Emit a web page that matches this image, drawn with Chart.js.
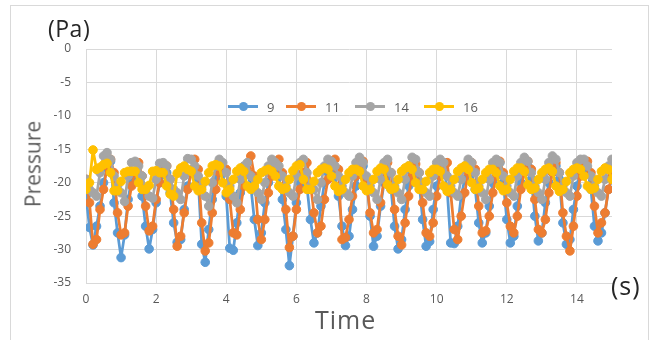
<!DOCTYPE html>
<html>
<head>
<meta charset="utf-8">
<script src="https://cdn.jsdelivr.net/npm/chart.js@4"></script>
<style>
  html, body { margin: 0; padding: 0; background: #fff; }
  #wrap { position: relative; width: 656px; height: 340px; overflow: hidden; font-family: "Open Sans", "Liberation Sans", sans-serif; }
  #frame { position: absolute; left: 10px; top: 5px; width: 639px; height: 345px; border: 1px solid #D9D9D9; box-sizing: border-box; }
  canvas { position: absolute; left: 0; top: 0; }
  .t { position: absolute; white-space: nowrap; line-height: 1; }
  .leg { position: absolute; top: 99px; height: 14px; font-size: 13px; color: #595959; }
  .leg .ln { position: absolute; left: 0; top: 6px; width: 30px; height: 2.5px; }
  .leg .dot { position: absolute; left: 10.5px; top: 2.5px; width: 9px; height: 9px; border-radius: 50%; }
  .leg .tx { position: absolute; left: 39px; top: -1px; }
</style>
</head>
<body>
<div id="wrap">
  <div id="frame"></div>
  <canvas id="c" width="656" height="340"></canvas>
  <div class="t" style="left:48px;top:17px;font-size:23px;letter-spacing:0.5px;color:#262626;">(Pa)</div>
  <div class="t" style="left:611px;top:273px;font-size:25px;letter-spacing:1px;color:#262626;">(s)</div>
  <div class="t" style="left:315px;top:307px;font-size:25px;letter-spacing:1px;color:#595959;">Time</div>
  <div class="t" style="left:33px;top:164px;font-size:21px;color:#595959;transform:translate(-50%,-50%) rotate(-90deg);">Pressure</div>
  <div id="legend"></div>
</div>
<script>
const seriesNames = ["9", "11", "14", "16"];
const seriesColors = ["#5B9BD5", "#ED7D31", "#A5A5A5", "#FFC000"];

const times = [
  0,0.1,0.2,0.3,0.4,0.5,0.6,0.7,0.8,0.9,
  1,1.1,1.2,1.3,1.4,1.5,1.6,1.7,1.8,1.9,
  2,2.1,2.2,2.3,2.4,2.5,2.6,2.7,2.8,2.9,
  3,3.1,3.2,3.3,3.4,3.5,3.6,3.7,3.8,3.9,
  4,4.1,4.2,4.3,4.4,4.5,4.6,4.7,4.8,4.9,
  5,5.1,5.2,5.3,5.4,5.5,5.6,5.7,5.8,5.9,
  6,6.1,6.2,6.3,6.4,6.5,6.6,6.7,6.8,6.9,
  7,7.1,7.2,7.3,7.4,7.5,7.6,7.7,7.8,7.9,
  8,8.1,8.2,8.3,8.4,8.5,8.6,8.7,8.8,8.9,
  9,9.1,9.2,9.3,9.4,9.5,9.6,9.7,9.8,9.9,
  10,10.1,10.2,10.3,10.4,10.5,10.6,10.7,10.8,10.9,
  11,11.1,11.2,11.3,11.4,11.5,11.6,11.7,11.8,11.9,
  12,12.1,12.2,12.3,12.4,12.5,12.6,12.7,12.8,12.9,
  13,13.1,13.2,13.3,13.4,13.5,13.6,13.7,13.8,13.9,
  14,14.1,14.2,14.3,14.4,14.5,14.6,14.7,14.8,14.9,
  15
];

const s9 = [
  -22, -26.7, -29.3, -26.5, -23.5, -20, -17.8, -16.8, -23, -27.5,
  -31.2, -27.8, -22.5, -19.5, -18.5, -19, -22, -26.5, -29.9, -27,
  -23, -20, -18.8, -18.5, -21.5, -26, -28.9, -28.5, -24, -20.5,
  -18.5, -18, -19.5, -29.2, -31.9, -27, -22.5, -19.5, -18, -18.5,
  -22, -29.8, -30.1, -26, -21.5, -19, -18.5, -20.5, -25.5, -29.4,
  -27.5, -23, -20, -18.5, -18, -19, -22.5, -27, -32.4, -28,
  -23, -20, -18.5, -20.5, -25.5, -29.0, -27.5, -23.5, -20, -18.5,
  -18, -19, -22, -26.5, -29.4, -28, -24, -20.5, -18.5, -17.5,
  -19.5, -25, -29.5, -28, -23.5, -20, -18.5, -21, -26.5, -29.9,
  -28.5, -24, -20.5, -18.5, -18, -20, -25.5, -29.5, -28.8, -24,
  -20.5, -18.5, -17.5, -21, -29.0, -29.1, -26.5, -22, -19.5, -18,
  -18.5, -21, -26, -29.0, -27.5, -23.5, -20, -18, -17, -20,
  -25.5, -29.0, -28, -23.5, -20, -18, -17.5, -19.5, -25, -28.7,
  -27.5, -23, -20, -18.5, -17.5, -19.5, -26, -29.2, -28.5, -24,
  -20.5, -18.5, -17.5, -18, -21, -26.5, -28.7, -27.5, -24.5, -21,
  -19.5
];

const s11 = [
  -19.5, -23, -29.2, -28.5, -24, -21, -17.5, -16.5, -18.5, -24.5,
  -27.8, -27.5, -23.5, -20.5, -18.5, -17, -19, -23.5, -27.2, -26.5,
  -22.5, -20, -18, -17.5, -19.5, -24, -29.5, -28, -24.5, -21,
  -18.5, -16.5, -18, -26, -30.2, -29, -24.5, -21, -18.5, -17.8,
  -18, -22.5, -27.5, -27.8, -24, -20.5, -18, -16, -19, -25.5,
  -28.5, -25.5, -21.5, -19, -17.5, -16.5, -18.5, -24, -29.7, -28,
  -24, -21, -18.5, -17, -20, -24.5, -27.5, -26.5, -22.5, -19.5,
  -17.5, -16.5, -18, -28.5, -28.2, -25.5, -22, -19, -17.5, -16.8,
  -19.5, -24.5, -27.5, -27, -23, -19.5, -17, -18.5, -24, -28,
  -29.3, -26, -22, -19, -17.2, -18.5, -23, -27.5, -28, -26,
  -22, -19, -17.5, -17, -21.5, -27, -28.5, -25, -21.5, -18.5,
  -17, -18, -23.5, -27.5, -27.2, -25, -21.5, -19, -16.8, -18.5,
  -23, -26.5, -27.5, -25, -21, -18.5, -16.8, -18, -22.5, -27,
  -27.5, -25.5, -21.5, -18.5, -17, -18.5, -24.5, -28, -30.2, -26.5,
  -22, -19, -17.5, -16.8, -18.5, -23.5, -27.5, -26, -24.5, -21,
  -19
];

const s14 = [
  -19.5, -21, -21.5, -22, -18.5, -16, -15.5, -16.5, -19, -20.5,
  -21.5, -22.8, -19, -17, -16.8, -17.5, -19, -21, -22, -22.3,
  -19.5, -17.1, -17, -17.5, -19.5, -21, -21.5, -22.5, -19, -16.4,
  -16.5, -17.5, -19, -20.5, -22, -23.5, -20, -17.5, -16.5, -17,
  -18.5, -20.5, -22, -23, -19.5, -17.5, -17, -19, -20.5, -21.5,
  -22.5, -20, -17.5, -16.5, -17, -17.5, -19, -20.5, -21.5, -22,
  -19, -17, -16.5, -18.5, -20.5, -21, -22.5, -20, -17.5, -16.5,
  -16.8, -17.5, -19, -20.5, -21.5, -22, -19, -17, -16.2, -17,
  -19, -20.5, -21.5, -22.5, -19.5, -17, -16.5, -18.5, -20.5, -21.5,
  -22.5, -19.5, -17.5, -16.2, -16.5, -18.5, -20, -21.5, -22, -19,
  -17, -16.5, -17, -19, -20.5, -21.5, -22, -19.5, -17.5, -16.5,
  -17, -18.5, -20.5, -21.5, -22.5, -19.5, -17, -16.5, -17, -19,
  -20.5, -21.5, -22, -19, -17, -16.2, -16.8, -18.5, -20.5, -21.5,
  -22.5, -19.5, -17, -16, -16.5, -18.5, -20.5, -21.5, -22, -19,
  -17, -16.5, -16.5, -17.5, -19, -20.5, -21.5, -22, -19.5, -17.5,
  -16.5
];

const s16 = [
  -21, -20, -15.1, -18, -17.7, -17.3, -17.1, -18.5, -21.2, -21.2,
  -19.8, -18.5, -18.3, -18.3, -18.3, -20, -21, -21, -20.4, -18.3,
  -18.2, -18.5, -18.5, -20.5, -21.7, -22, -18.6, -17.8, -17.5, -18,
  -18.3, -20.5, -21.2, -21, -19.8, -18.5, -17.5, -17.3, -17.5, -20,
  -21.5, -21, -19.5, -18.3, -17.8, -18.3, -20.5, -21, -20.5, -19.5,
  -18.5, -18.2, -18, -18.3, -19, -20.5, -21, -20.8, -19.5, -18.2,
  -17.5, -17.3, -19.5, -21, -21, -19.8, -18.5, -18, -17.8, -18,
  -19, -20.5, -21.3, -21, -19.5, -18.5, -18, -18, -18.3, -20.5,
  -21.2, -21, -19.5, -18.3, -17.8, -18, -20.3, -21, -20.8, -19.5,
  -18.3, -17.8, -17.5, -18, -20, -21, -21, -19.8, -18.5, -18,
  -18, -18.3, -20.5, -21.3, -21, -19.5, -18.3, -17.8, -17.5, -18,
  -20, -21, -20.8, -19.5, -18.5, -18, -18, -18.5, -20.5, -21.2,
  -21, -19.5, -18.3, -17.8, -17.8, -18.3, -20.3, -21, -20.8, -19.5,
  -18.5, -18, -17.8, -18.3, -20.5, -21.3, -21, -19.8, -18.5, -18,
  -17.8, -18, -19, -20.5, -21, -20.8, -19.5, -18.3, -17.8, -18,
  -19.5
];

const xTickStep = 2;
const yTickStep = 5;

const allSeries = [s9, s11, s14, s16];

const datasets = allSeries.map((vals, k) => ({
  label: seriesNames[k],
  data: times.map((t, i) => ({ x: t, y: vals[i] })),
  borderColor: seriesColors[k],
  backgroundColor: seriesColors[k],
  pointBackgroundColor: seriesColors[k],
  pointBorderColor: seriesColors[k],
  borderWidth: 2.75,
  borderJoinStyle: 'round',
  borderCapStyle: 'round',
  pointRadius: 4.3,
  pointHoverRadius: 4.3,
  pointBorderWidth: 1,
  tension: 0,
  order: 4 - k
}));

// HTML legend
const legendX = [228, 286, 355, 424];
const legendEl = document.getElementById('legend');
seriesNames.forEach((n, k) => {
  const d = document.createElement('div');
  d.className = 'leg';
  d.style.left = legendX[k] + 'px';
  d.innerHTML = '<span class="ln" style="background:' + seriesColors[k] + '"></span>' +
    '<span class="dot" style="background:' + seriesColors[k] + '"></span>' +
    '<span class="tx">' + n + '</span>';
  legendEl.appendChild(d);
});

const gridColor = '#D9D9D9';
new Chart(document.getElementById('c'), {
  type: 'line',
  data: { datasets },
  options: {
    responsive: false,
    animation: false,
    events: [],
    layout: { padding: { left: 0, top: 49, right: 44, bottom: 0 } },
    plugins: { legend: { display: false }, tooltip: { enabled: false } },
    scales: {
      x: {
        type: 'linear',
        min: 0, max: 15,
        afterFit: s => { s.height = 57; },
        grid: { color: gridColor, lineWidth: 1, drawTicks: false },
        border: { display: true, color: gridColor, width: 1 },
        ticks: { stepSize: xTickStep, includeBounds: false, padding: 9, color: '#595959',
                 font: { family: '"Open Sans", "Liberation Sans", sans-serif', size: 12 } }
      },
      y: {
        min: -35, max: 0,
        afterFit: s => { s.width = 86; },
        grid: { color: gridColor, lineWidth: 1, drawTicks: false },
        border: { display: true, color: gridColor, width: 1 },
        ticks: { stepSize: yTickStep, padding: 15, color: '#595959',
                 font: { family: '"Open Sans", "Liberation Sans", sans-serif', size: 12 } }
      }
    }
  }
});
</script>
</body>
</html>
